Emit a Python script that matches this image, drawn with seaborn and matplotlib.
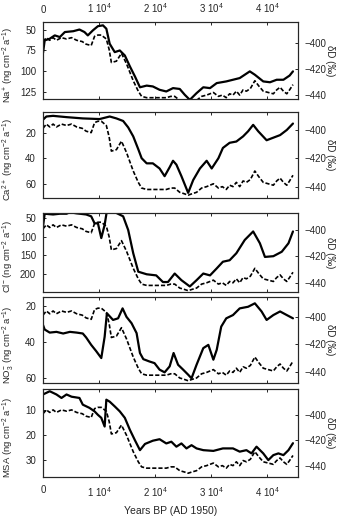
import numpy as np
import pandas as pd
import matplotlib
matplotlib.use("Agg")
import matplotlib.pyplot as plt
import seaborn as sns

# deuterium record (dashed, right axis) - same in every panel
dd_years = [0, 600, 1200, 1800, 2400, 3300, 4200, 5100, 6000, 7000, 7700, 8600, 9200, 9800, 10400,
            11300, 11800, 12200, 13100, 14000, 14900, 16100, 17000, 17600, 18500, 19600, 20800,
            22000, 22800, 23500, 24400, 25200, 25900, 26600, 27400, 28300, 29200, 30400, 31300,
            32000, 32700, 33300, 33900, 34500, 35100, 35700, 36300, 37000, 37800, 38500, 39300,
            40200, 41100, 41700, 42300, 42900, 43500, 44000, 44600]
dd_vals = [-399, -396, -398, -396, -398, -396, -397, -396, -398, -399, -401, -402, -395, -394, -394,
           -397, -405, -415, -414, -408, -416, -429, -437, -441, -442, -442, -442,
           -442, -441, -441, -444, -445, -446, -445, -444, -441, -440, -438, -441,
           -440, -442, -439, -440, -437, -440, -436, -437, -435, -429, -433, -437,
           -438, -439, -436, -434, -437, -439, -436, -432]

na_years = [0, 300, 1200, 2100, 3000, 3900, 5400, 6500, 7400, 8000, 8900, 9800, 10700, 11300, 11900,
            12800, 13700, 14600, 15500, 16400, 17300, 18500, 19600, 20800, 22000, 23200, 24400,
            25300, 26200, 27400, 28600, 29800, 31000, 32700, 33900, 35100, 36000, 36900, 37800,
            39300, 40500, 41700, 42900, 44000, 44600]
na_vals = [78, 63, 61, 57, 59, 53, 52, 50, 53, 57, 51, 46, 45, 49, 67,
           77, 75, 81, 94, 106, 119, 117, 118, 122, 124, 120, 121,
           128, 134, 126, 119, 120, 114, 112, 110, 108, 104, 100, 104,
           112, 113, 110, 110, 105, 100]

ca_years = [0, 600, 1800, 4200, 7100, 10100, 11900, 13100, 14300, 15200, 16100, 17000, 17600, 18500,
            19600, 20800, 21700, 22600, 23200, 23800, 24700, 25900, 26800, 28000, 29200, 30100,
            31300, 32100, 33300, 34500, 35700, 36600, 37500, 38400, 39900, 41100, 42300, 43500, 44600]
ca_vals = [10, 7.5, 7, 8, 9, 9.5, 7.5, 9, 11, 16, 23, 33, 40, 44,
           44, 48, 54, 47, 42, 45, 54, 67, 57, 48, 42, 48,
           40, 32, 28, 27, 23, 19, 14, 19, 26, 24, 22, 18, 13]

cl_years = [0, 300, 1800, 3000, 4200, 4800, 6000, 7700, 8600, 9200, 9800, 10400, 11000, 11400, 12200,
            13100, 14300, 15200, 16100, 17000, 18500, 20200, 21400, 22300, 23500, 24700, 26200,
            27400, 28600, 29800, 31000, 32100, 33300, 34500, 36000, 37500, 38700, 39600, 41100,
            42600, 43800, 44600]
cl_vals = [73, 38, 40, 38, 38, 34, 37, 40, 45, 64, 64, 104, 68, 30, 32,
           36, 45, 82, 145, 195, 202, 205, 223, 223, 200, 218, 235,
           218, 200, 205, 186, 168, 164, 145, 109, 86, 118, 155, 153,
           141, 118, 86]

no3_years = [0, 300, 1200, 2400, 3600, 4800, 6000, 7100, 7700, 8600, 9500, 10400, 11000, 11400, 12500,
             13400, 14200, 14900, 15800, 16700, 17300, 17900, 19000, 19900, 20800, 21700, 22600,
             23300, 24100, 25000, 25900, 26500, 27400, 28600, 29500, 30400, 31000, 31800, 32700,
             33900, 35100, 36600, 37800, 39000, 39900, 41100, 42300, 43500, 44600]
no3_vals = [30.5, 33, 34.7, 34.3, 35.2, 34.3, 34.7, 35.2, 37.4, 41.5, 45, 48.8, 37, 24, 27.7,
            26.8, 21.3, 26, 29.5, 35, 46, 49.4, 50.7, 51.6, 55.2, 56.7, 53.4,
            46, 52.5, 55.2, 58, 60, 52.5, 43.3, 41.5, 49.7, 44.2, 31.4, 26.8,
            25, 21.3, 20.4, 18.5, 23, 27.7, 25, 23, 25, 26.8]

msa_years = [0, 1200, 2400, 3300, 4200, 5100, 6500, 7100, 8300, 9200, 9800, 10400, 11000, 11300, 11900,
             12800, 13700, 14600, 15500, 16400, 17300, 18200, 19600, 20800, 22000, 22900, 23800,
             24700, 25600, 26500, 27400, 28600, 30400, 32100, 33900, 35100, 36300, 37200, 38100,
             39300, 40200, 41100, 42000, 42900, 43800, 44600]
msa_vals = [3.6, 2.3, 3.6, 5, 3.6, 4.5, 5, 7.7, 9, 10.4, 11.8, 13, 16.5, 5.7, 6.5,
            8.4, 10.4, 13, 17.8, 22, 26, 23.5, 22.2, 21.6, 23.3, 22.6, 24.6,
            23.3, 25.3, 24, 25.3, 26, 26.3, 25.3, 25.3, 26.6, 26, 27.3, 24.6,
            27.3, 30, 28, 27.3, 28, 26, 23.2]

labels = [r"Na$^{+}$ (ng cm$^{-2}$ a$^{-1}$)",
          r"Ca$^{2+}$ (ng cm$^{-2}$ a$^{-1}$)",
          r"Cl$^{-}$ (ng cm$^{-2}$ a$^{-1}$)",
          r"NO$_3^{-}$ (ng cm$^{-2}$ a$^{-1}$)",
          r"MSA (ng cm$^{-2}$ a$^{-1}$)"]
series = [(na_years, na_vals), (ca_years, ca_vals), (cl_years, cl_vals),
          (no3_years, no3_vals), (msa_years, msa_vals)]
left_lims = [(133, 41), (71, 4), (250, 36), (62.6, 15), (36.8, 1.4)]
left_ticks = [[50, 75, 100, 125], [20, 40, 60], [50, 100, 150, 200], [20, 40, 60], [10, 20, 30]]
right_lims = [(-443, -384), (-448, -387.5), (-447, -387), (-447.6, -386), (-449, -379.5)]
dd_ticks = [-400, -420, -440]
x_ticks = [0, 10000, 20000, 30000, 40000]
x_ticklabels = ["0", r"1 10$^4$", r"2 10$^4$", r"3 10$^4$", r"4 10$^4$"]

sns.set_style("ticks")
plt.rcParams['font.family'] = ['Liberation Sans', 'DejaVu Sans']
plt.rcParams['mathtext.default'] = 'regular'
plt.rcParams['axes.linewidth'] = 0.8

W, H = 350, 517
fig = plt.figure(figsize=(W / 100, H / 100), dpi=100)
boxes = [(22, 99), (112, 198), (213, 292), (297, 383), (389, 477)]
x0, x1 = 43, 298

for i, (top, bot) in enumerate(boxes):
    ax = fig.add_axes([x0 / W, 1 - bot / H, (x1 - x0) / W, (bot - top) / H])
    ax2 = ax.twinx()
    yrs, vals = series[i]
    sns.lineplot(x=yrs, y=vals, ax=ax, color='black', lw=1.6)
    sns.lineplot(x=dd_years, y=dd_vals, ax=ax2, color='black', lw=1.2, linestyle=(0, (2.5, 1.2)))

    ax.set_xlim(0, 45500)
    ax.set_ylim(*left_lims[i])
    ax.set_yticks(left_ticks[i])
    ax2.set_ylim(*right_lims[i])
    ax2.set_yticks(dd_ticks)
    ax.set_xticks(x_ticks)

    ax.tick_params(axis='both', direction='in', length=2.5, width=0.7, labelsize=7,
                   top=True, bottom=True, pad=5)
    ax2.tick_params(axis='y', direction='in', length=2.5, width=0.7, labelsize=7, pad=5)
    ax.set_ylabel(labels[i], fontsize=6.8)
    ax.yaxis.set_label_coords(-0.106, 0.45)
    ax2.set_ylabel("δD (‰)", fontsize=7, rotation=270)
    ax2.yaxis.set_label_coords(1.145, 0.5)

    if i == 0:
        ax.tick_params(axis='x', labeltop=True, labelbottom=False, pad=5)
        ax.set_xticklabels(x_ticklabels)
    elif i == len(boxes) - 1:
        ax.set_xticklabels(x_ticklabels)
        ax.tick_params(axis='x', labelbottom=True, pad=6)
        ax.set_xlabel("Years BP (AD 1950)", fontsize=7.5, labelpad=5)
    else:
        ax.tick_params(axis='x', labelbottom=False)

fig.savefig("out.png", dpi=100)
